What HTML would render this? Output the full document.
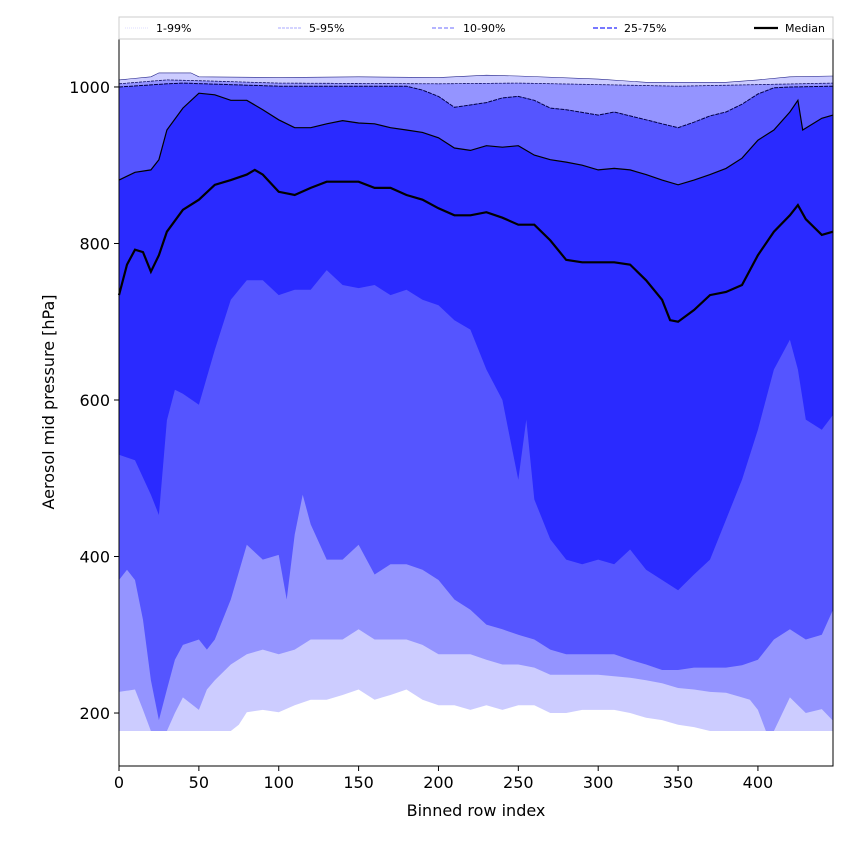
<!DOCTYPE html>
<html><head><meta charset="utf-8"><style>
body{margin:0;background:#fff;}
svg text{font-family:"DejaVu Sans","Liberation Sans",sans-serif;}
</style></head><body>
<svg id="chart" width="850" height="850" xmlns="http://www.w3.org/2000/svg"></svg>
<script>
const p99 = [[0,1009],[20,1013],[25,1018],[45,1018],[50,1013],[100,1012],[150,1013],[200,1012],[230,1015],[250,1014],[300,1010],[330,1006],[350,1006],[380,1006],[400,1009],[420,1013],[447,1014]];
const p95 = [[0,1004],[30,1009],[50,1008],[100,1005],[200,1004],[250,1005],[300,1003],[350,1001],[400,1003],[447,1005]];
const p90 = [[0,1000],[30,1004],[40,1005],[100,1001],[150,1001],[180,1001],[190,996],[200,988],[210,974],[230,980],[240,986],[250,988],[260,983],[270,973],[280,971],[300,964],[310,968],[320,963],[330,958],[340,953],[350,948],[360,955],[370,963],[380,968],[390,978],[400,991],[410,999],[420,1000],[447,1001]];
const p75 = [[0,881],[10,891],[20,894],[25,907],[30,945],[40,973],[50,992],[60,990],[70,983],[80,983],[90,971],[100,958],[110,948],[120,948],[130,953],[140,957],[150,954],[160,953],[170,948],[180,945],[190,942],[200,935],[210,922],[220,919],[230,925],[240,923],[250,925],[260,913],[270,907],[280,904],[290,900],[300,894],[310,896],[320,894],[330,888],[340,881],[350,875],[360,881],[370,888],[380,896],[390,909],[400,932],[410,945],[420,968],[425,983],[428,945],[440,960],[447,964]];
const median = [[0,734],[5,773],[10,792],[15,789],[20,764],[25,785],[30,815],[40,843],[50,856],[60,875],[70,881],[80,888],[85,894],[90,888],[100,866],[110,862],[120,871],[130,879],[140,879],[150,879],[160,871],[170,871],[180,862],[190,856],[200,845],[210,836],[220,836],[230,840],[240,833],[250,824],[260,824],[270,804],[280,779],[290,776],[300,776],[310,776],[320,773],[330,753],[340,728],[345,702],[350,700],[360,715],[370,734],[380,738],[390,747],[400,785],[410,815],[420,836],[425,849],[430,831],[440,811],[447,815]];
const p25 = [[0,530],[10,523],[20,479],[25,453],[30,574],[35,613],[40,608],[50,594],[60,664],[70,728],[80,753],[90,753],[100,734],[110,741],[120,741],[130,766],[140,747],[150,743],[160,747],[170,734],[180,741],[190,728],[200,721],[210,702],[220,690],[230,639],[240,600],[245,549],[250,498],[255,575],[260,473],[270,422],[280,396],[290,390],[300,396],[310,390],[320,409],[330,383],[340,370],[350,357],[360,377],[370,396],[380,447],[390,498],[400,562],[410,639],[420,677],[425,639],[430,575],[440,562],[447,581]];
const p10 = [[0,370],[5,383],[10,370],[15,319],[20,242],[25,191],[30,230],[35,268],[40,287],[50,294],[55,281],[60,294],[70,345],[80,415],[90,396],[100,402],[105,345],[110,428],[115,479],[120,441],[130,396],[140,396],[150,415],[160,377],[170,390],[180,390],[190,383],[200,370],[210,345],[220,332],[230,313],[240,307],[250,300],[260,294],[270,281],[280,275],[290,275],[300,275],[310,275],[320,268],[330,262],[340,255],[350,255],[360,258],[370,258],[380,258],[390,261],[400,268],[410,294],[420,307],[430,294],[440,300],[447,332]];
const p5 = [[0,227],[10,230],[15,204],[20,177],[30,177],[35,200],[40,220],[50,204],[55,230],[60,242],[70,262],[80,275],[90,281],[100,275],[110,281],[120,294],[130,294],[140,294],[150,307],[160,294],[170,294],[180,294],[190,287],[200,275],[210,275],[220,275],[230,268],[240,262],[250,262],[260,258],[270,249],[280,249],[290,249],[300,249],[310,247],[320,245],[330,242],[340,238],[350,232],[360,230],[370,227],[380,226],[390,220],[395,217],[400,204],[405,177],[410,177],[420,220],[430,200],[440,205],[447,190]];
const p1 = [[0,177],[70,177],[75,185],[80,201],[90,204],[100,201],[110,210],[120,217],[130,217],[140,223],[150,230],[160,217],[170,223],[180,230],[190,217],[200,210],[210,210],[220,204],[230,210],[240,204],[250,210],[260,210],[270,200],[280,200],[290,204],[300,204],[310,204],[320,200],[330,194],[340,191],[350,185],[360,182],[370,177],[447,177]];
const xTicks = [0,50,100,150,200,250,300,350,400];
const yTicks = [200,400,600,800,1000];

const L=119,R=833,T=39,B=766, XMAX=447, YMIN=132.3, YMAX=1061.3;
const sx = v => L + v/XMAX*(R-L);
const sy = v => B - (v-YMIN)/(YMAX-YMIN)*(B-T);
const NS="http://www.w3.org/2000/svg";
const svg=document.getElementById('chart');
function mk(tag,attrs,parent){const e=document.createElementNS(NS,tag);for(const k in attrs)e.setAttribute(k,attrs[k]);(parent||svg).appendChild(e);return e;}
function pts(arr){return arr.map(p=>sx(p[0]).toFixed(1)+','+sy(p[1]).toFixed(1));}
function band(up,lo,color,name){
  const d='M'+pts(up).join('L')+'L'+pts(lo.slice().reverse()).join('L')+'Z';
  const e=mk('path',{d:d,fill:color,stroke:'none'});
  
  
}
function line(arr,color,w,dash,name){
  const e=mk('path',{d:'M'+pts(arr).join('L'),fill:'none',stroke:color,'stroke-width':w,'stroke-dasharray':dash||'none'});
  
  
}
band(p99,p1,'#ccccff','band-1-99');
band(p95,p5,'#9494ff','band-5-95');
band(p90,p10,'#5555ff','band-10-90');
band(p75,p25,'#2a2aff','band-25-75');
line(p99,'#222288',0.6,'','line-p99');
line(p95,'#111166',0.8,'3,1','line-p95');
line(p90,'#000044',1,'4,1','line-p90');
line(p75,'#000000',1.2,'','line-p75');
line(median,'#000000',2.2,'','median-line');
const frame=mk('rect',{x:L,y:T,width:R-L,height:B-T,fill:'none',stroke:'#000','stroke-width':1});


xTicks.forEach(v=>{
  mk('line',{x1:sx(v),x2:sx(v),y1:B,y2:B+5,stroke:'#000'});
  const t=mk('text',{x:sx(v),y:B+22,'font-size':16,'text-anchor':'middle'});t.textContent=v;
  
  
});
yTicks.forEach(v=>{
  mk('line',{x1:L-5,x2:L,y1:sy(v),y2:sy(v),stroke:'#000'});
  const t=mk('text',{x:L-9,y:sy(v)+6,'font-size':16,'text-anchor':'end'});t.textContent=v;
  
  
});
const xt=mk('text',{x:(L+R)/2,y:816,'font-size':16,'text-anchor':'middle'});xt.textContent='Binned row index';


const yt=mk('text',{x:0,y:0,'font-size':16,'text-anchor':'middle',transform:'translate(54,402) rotate(-90)'});yt.textContent='Aerosol mid pressure [hPa]';


const lg=mk('g',{});


mk('rect',{x:119,y:17,width:714,height:22,fill:'#fff',stroke:'#ccc','stroke-width':1},lg);
const legItems=[['1-99%',125,'#ddddff',1,'1,1'],['5-95%',278,'#aaaaff',1,'3,1'],['10-90%',432,'#8888ff',1.3,'4,2'],['25-75%',593,'#6666ff',1.8,'5,2'],['Median',754,'#000',2.2,'']];
legItems.forEach(it=>{
  const g=mk('g',{},lg);
  
  
  mk('line',{x1:it[1],x2:it[1]+24,y1:28,y2:28,stroke:it[2],'stroke-width':it[3],'stroke-dasharray':it[4]||'none'},g);
  const t=mk('text',{x:it[1]+31,y:32,'font-size':11},g);t.textContent=it[0];
});
</script>
</body></html>
